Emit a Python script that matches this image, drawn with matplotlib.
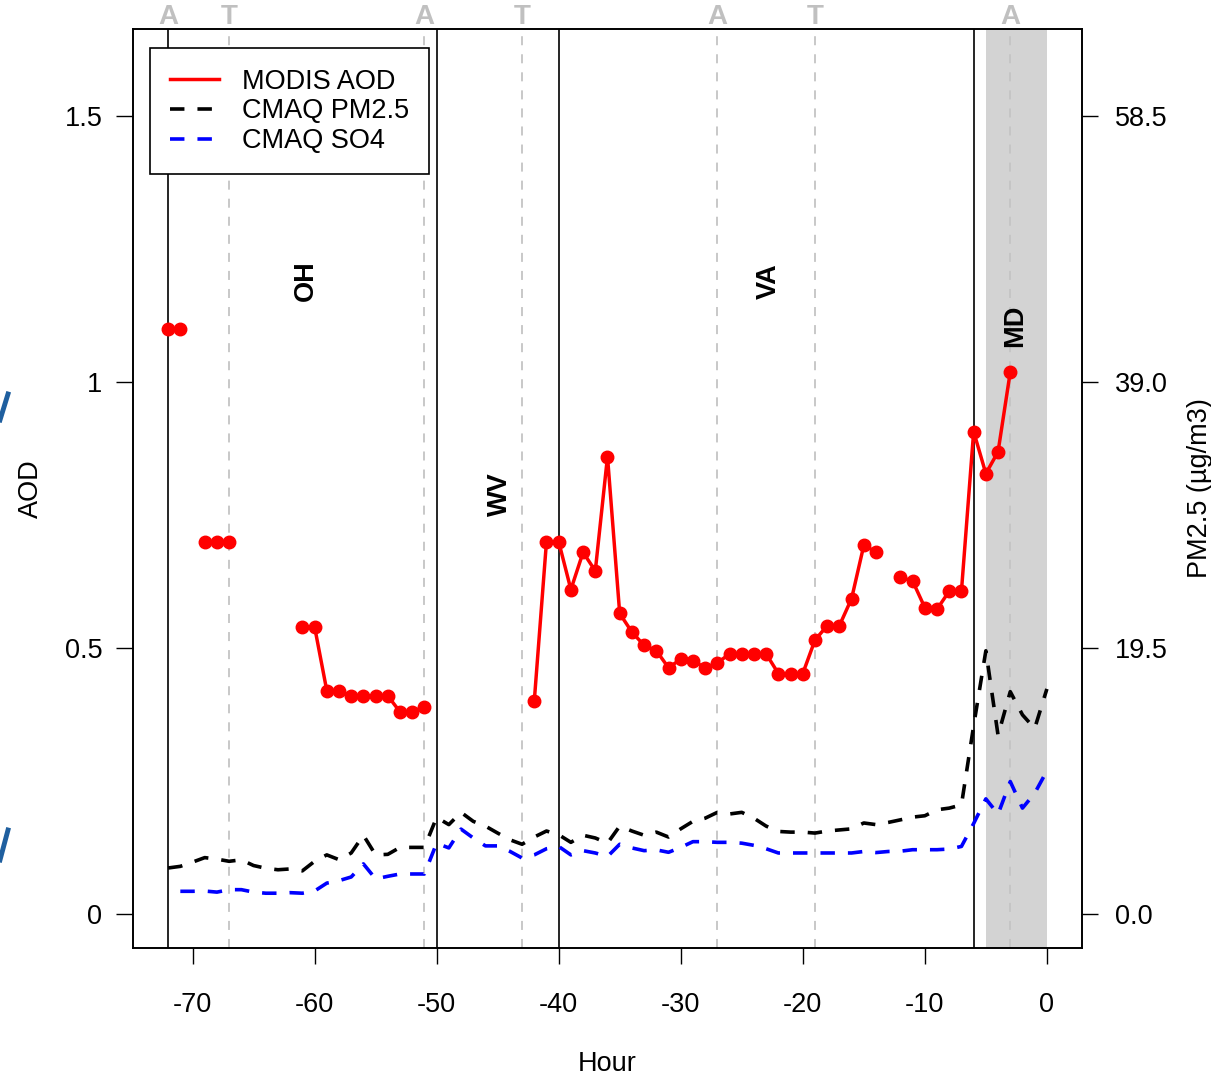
import numpy as np
import matplotlib
matplotlib.use("Agg")
import matplotlib.pyplot as plt
from matplotlib.lines import Line2D
from matplotlib.transforms import blended_transform_factory

plt.rcParams['font.family'] = ['Liberation Sans', 'DejaVu Sans']
plt.rcParams['axes.unicode_minus'] = False

nan = np.nan

# hours before overpass
hours = np.arange(-72, 1)

# MODIS AOD, hour -72 .. 0
aod = [1.10, 1.10, nan, 0.70, 0.70, 0.70, nan, nan, nan, nan,
       nan, 0.54, 0.54, 0.42, 0.42, 0.41, 0.41, 0.41, 0.41, 0.38,
       0.38, 0.39, nan, nan, nan, nan, nan, nan, nan, nan,
       0.40, 0.70, 0.70, 0.61, 0.68, 0.645, 0.86, 0.565, 0.53, 0.505,
       0.495, 0.463, 0.479, 0.476, 0.463, 0.472, 0.489, 0.489, 0.489, 0.489,
       0.452, 0.452, 0.452, 0.515, 0.542, 0.542, 0.593, 0.693, 0.681, nan,
       0.633, 0.626, 0.576, 0.573, 0.607, 0.607, 0.907, 0.828, 0.869, 1.019,
       nan, nan, nan]

# CMAQ PM2.5 (ug/m3), hour -72 .. 0
pm25 = [3.37, 3.49, 3.8, 4.13, 4.02, 3.86, 3.97, 3.55, 3.35, 3.24,
        3.3, 3.16, 3.86, 4.33, 3.98, 4.47, 5.77, 4.33, 4.37, 4.88,
        4.88, 4.88, 7.08, 6.55, 7.45, 6.79, 6.44, 5.93, 5.44, 5.11,
        5.64, 6.08, 5.81, 5.25, 5.77, 5.57, 5.19, 6.44, 6.08, 5.77,
        6.0, 5.64, 6.24, 6.79, 7.02, 7.45, 7.33, 7.45, 7.02, 6.44,
        6.05, 6.0, 6.0, 5.93, 6.08, 6.16, 6.24, 6.67, 6.55, 6.71,
        6.9, 7.1, 7.2, 7.64, 7.76, 8.0, 13.8, 19.3, 13.1, 16.3,
        14.6, 13.6, 16.5]

# CMAQ SO4 (ug/m3), hour -72 .. 0
so4 = [nan, 1.66, 1.66, 1.68, 1.60, 1.78, 1.78, 1.60, 1.52, 1.52,
       1.56, 1.52, 1.68, 2.26, 2.44, 2.71, 3.67, 2.57, 2.76, 2.93,
       2.93, 2.93, 5.19, 4.84, 6.22, 5.57, 4.99, 4.99, 4.59, 4.10,
       4.33, 4.78, 4.95, 4.33, 4.64, 4.47, 4.21, 5.11, 4.84, 4.64,
       4.70, 4.52, 4.88, 5.30, 5.30, 5.25, 5.25, 5.19, 5.03, 4.78,
       4.47, 4.47, 4.47, 4.47, 4.47, 4.47, 4.47, 4.58, 4.50, 4.58,
       4.60, 4.71, 4.71, 4.71, 4.76, 4.95, 6.63, 8.44, 7.32, 9.71,
       7.76, 8.85, 10.49]

# state boundaries and overpass marks
borders = [-72, -50, -40, -6]
pass_hours = [-72, -67, -51, -43, -27, -19, -3]
pass_labels = ["A", "T", "A", "T", "A", "T", "A"]
states = ["OH", "WV", "VA", "MD"]
state_x = [-60.7, -44.8, -22.8, -2.6]
state_y = [1.19, 0.79, 1.19, 1.105]

fig = plt.figure(figsize=(12.11, 10.77), dpi=100)
ax = fig.add_axes([0.1098, 0.1198, 0.7837, 0.8533])

ax.axvspan(-5, 0, color="#d3d3d3", lw=0, zorder=0)
for b in borders:
    ax.axvline(b, color="black", lw=1.2, zorder=1)
gray_dash = [h for h in pass_hours if h not in borders]
for h in gray_dash:
    ax.axvline(h, color="#c4c4c4", lw=1.3, ls=(0, (5, 5)), zorder=1)

ax.plot(hours, aod, color="red", lw=2.5, marker="o", ms=9, zorder=4)

ax.set_xlim(-74.88, 2.88)
ax.set_ylim(-0.064, 1.664)
ax.set_xticks([-70, -60, -50, -40, -30, -20, -10, 0])
ax.set_yticks([0, 0.5, 1, 1.5])
ax.set_yticklabels(["0", "0.5", "1", "1.5"])
ax.tick_params(axis="x", length=11.5, width=1, labelsize=19.5, pad=20)
ax.tick_params(axis="y", length=12, width=1, labelsize=19.5, pad=10)
ax.set_xlabel("Hour", fontsize=19.5, labelpad=24)
ax.set_ylabel("AOD", fontsize=19.5, labelpad=15)

for s, x, y in zip(states, state_x, state_y):
    ax.text(x, y, s, rotation=90, ha="center", va="center",
            fontsize=19.5, fontweight="bold")

trans = blended_transform_factory(ax.transData, ax.transAxes)
for h, lab in zip(pass_hours, pass_labels):
    ax.text(h, 1.013, lab, transform=trans, ha="center", va="center",
            fontsize=20, fontweight="bold", color="#c0c0c0",
            family=["Liberation Sans Narrow", "Liberation Sans"], clip_on=False)

ax2 = ax.twinx()
ax2.plot(hours, pm25, color="black", lw=2.6, ls=(0, (4, 3.6)), zorder=3)
ax2.plot(hours, so4, color="blue", lw=2.6, ls=(0, (4, 3.6)), zorder=3)
ax2.set_ylim(-0.064 * 39, 1.664 * 39)
ax2.set_yticks([0, 19.5, 39, 58.5])
ax2.set_yticklabels(["0.0", "19.5", "39.0", "58.5"])
ax2.tick_params(axis="y", length=11.5, width=1, labelsize=19.5, pad=12)
ax2.set_ylabel("PM2.5 (\u00b5g/m3)", fontsize=19.5, labelpad=14)

for a in (ax, ax2):
    for sp in a.spines.values():
        sp.set_linewidth(1.2)

handles = [Line2D([], [], color="red", lw=2.5),
           Line2D([], [], color="black", lw=2.6, ls=(0, (4, 3.6))),
           Line2D([], [], color="blue", lw=2.6, ls=(0, (4, 3.6)))]
leg = ax2.legend(handles, ["MODIS AOD", "CMAQ PM2.5", "CMAQ SO4"],
                 loc="upper left", bbox_to_anchor=(0.0179, 0.979),
                 borderaxespad=0, fontsize=19.5, frameon=True, fancybox=False,
                 edgecolor="black", framealpha=1, handlelength=1.8,
                 handletextpad=0.85, labelspacing=0.14, borderpad=0.75)
leg.get_frame().set_linewidth(1.2)

# bits of a neighbouring figure at the left edge
for y0, y1 in [(420, 394), (860, 830)]:
    fig.add_artist(Line2D([0.0, 8 / 1211], [1 - y0 / 1077, 1 - y1 / 1077],
                          color="#1f5f9f", lw=3.5, transform=fig.transFigure))

fig.savefig("out.png", dpi=100)
